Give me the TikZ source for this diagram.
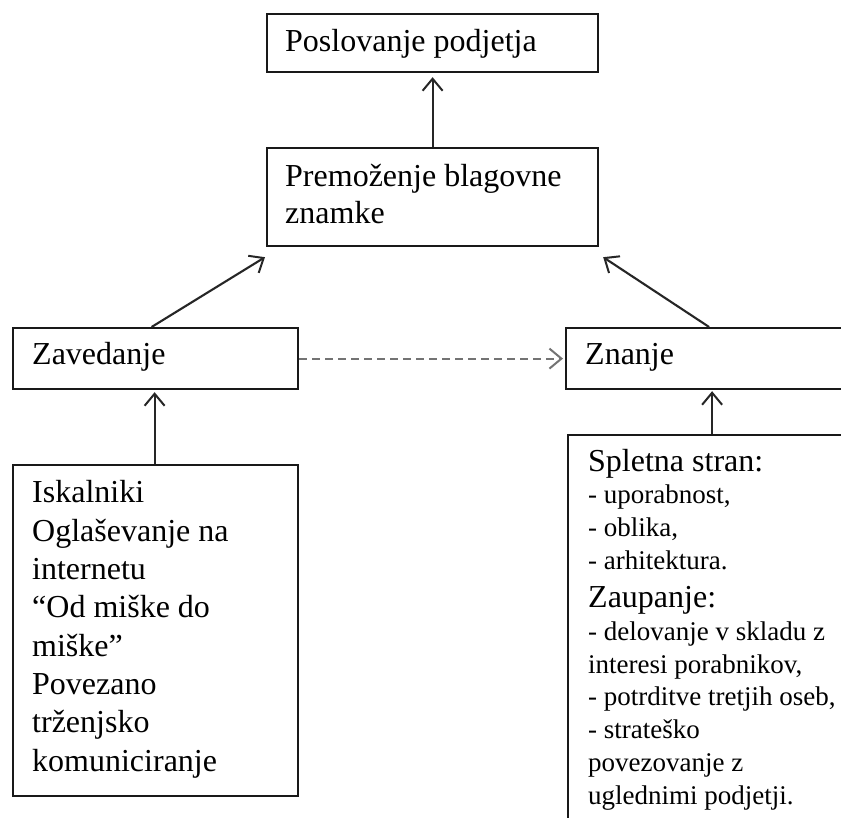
\documentclass[tikz,border=0pt]{standalone}
\usepackage{fontspec}
\setmainfont{Liberation Serif}
\usetikzlibrary{arrows.meta,calc}
\newcommand\bigtxt{\fontsize{32}{38.3}\selectfont}
\newcommand\smalltxt{\fontsize{27}{32.7}\selectfont}
\begin{document}
\begin{tikzpicture}[x=1pt,y=-1pt,
  box/.style={draw=black!90, line width=2.2pt, inner sep=0pt, anchor=north west},
  txt/.style={inner sep=0pt, anchor=base west, align=left, font=\bigtxt},
  tip/.style={-{Straight Barb[length=12pt,width=20pt,line width=2pt]}},
  arr/.style={draw=black!85, line width=2.1pt, tip},
  darr/.style={draw=black!55, line width=2.1pt, dash pattern=on 8pt off 5pt, tip}
]
\clip (0,0) rectangle (841,818);
\fill[white] (0,0) rectangle (841,818);

% boxes
\node[box, minimum width=331pt, minimum height=58pt] (b1) at (266,13) {};
\node[box, minimum width=331pt, minimum height=98pt] (b2) at (266,147) {};
\node[box, minimum width=285pt, minimum height=61pt] (zav) at (12,327) {};
\node[box, minimum width=286pt, minimum height=61pt] (zna) at (565,327) {};
\node[box, minimum width=285pt, minimum height=331pt] (isk) at (12,464) {};
\node[box, minimum width=288pt, minimum height=420pt] (spl) at (567,434) {};

% texts (base anchor = baseline of the last line)
\node[txt] (t1) at (285,52) {Poslovanje podjetja};
\node[txt, font=\fontsize{32}{37}\selectfont] (t2) at (285,224) {Premoženje blagovne\\znamke};
\node[txt] (t3) at (32,365) {Zavedanje};
\node[txt] (t4) at (585,365) {Znanje};
\node[txt] (t5) at (32,771) {Iskalniki\\Oglaševanje na\\internetu\\“Od miške do\\miške”\\Povezano\\trženjsko\\komuniciranje};
\node[txt, font=\smalltxt] (t6) at (588,804) {{\bigtxt Spletna stran:}\\- uporabnost,\\- oblika,\\- arhitektura.\\[6pt]{\bigtxt Zaupanje:}\\- delovanje v skladu z\\interesi porabnikov,\\- potrditve tretjih oseb,\\- strateško\\povezovanje z\\uglednimi podjetji.};

% connectors
\draw[arr] (b2.north) -- ($(b1.south)+(0,4)$);
\draw[arr] ($(zav.north)+(-4,0)$) -- ($(b2.south west)+(-1,10)$);
\draw[arr] (zna.north) -- ($(b2.south east)+(4,10)$);
\draw[arr] ($(isk.north)+(-1,0)$) -- ($(zav.south)+(-1,2)$);
\draw[arr] (spl.north) -- ($(zna.south)+(3,1)$);
\draw[darr] (zav.east) -- ($(zna.west)+(-2,0)$);
\end{tikzpicture}
\end{document}
